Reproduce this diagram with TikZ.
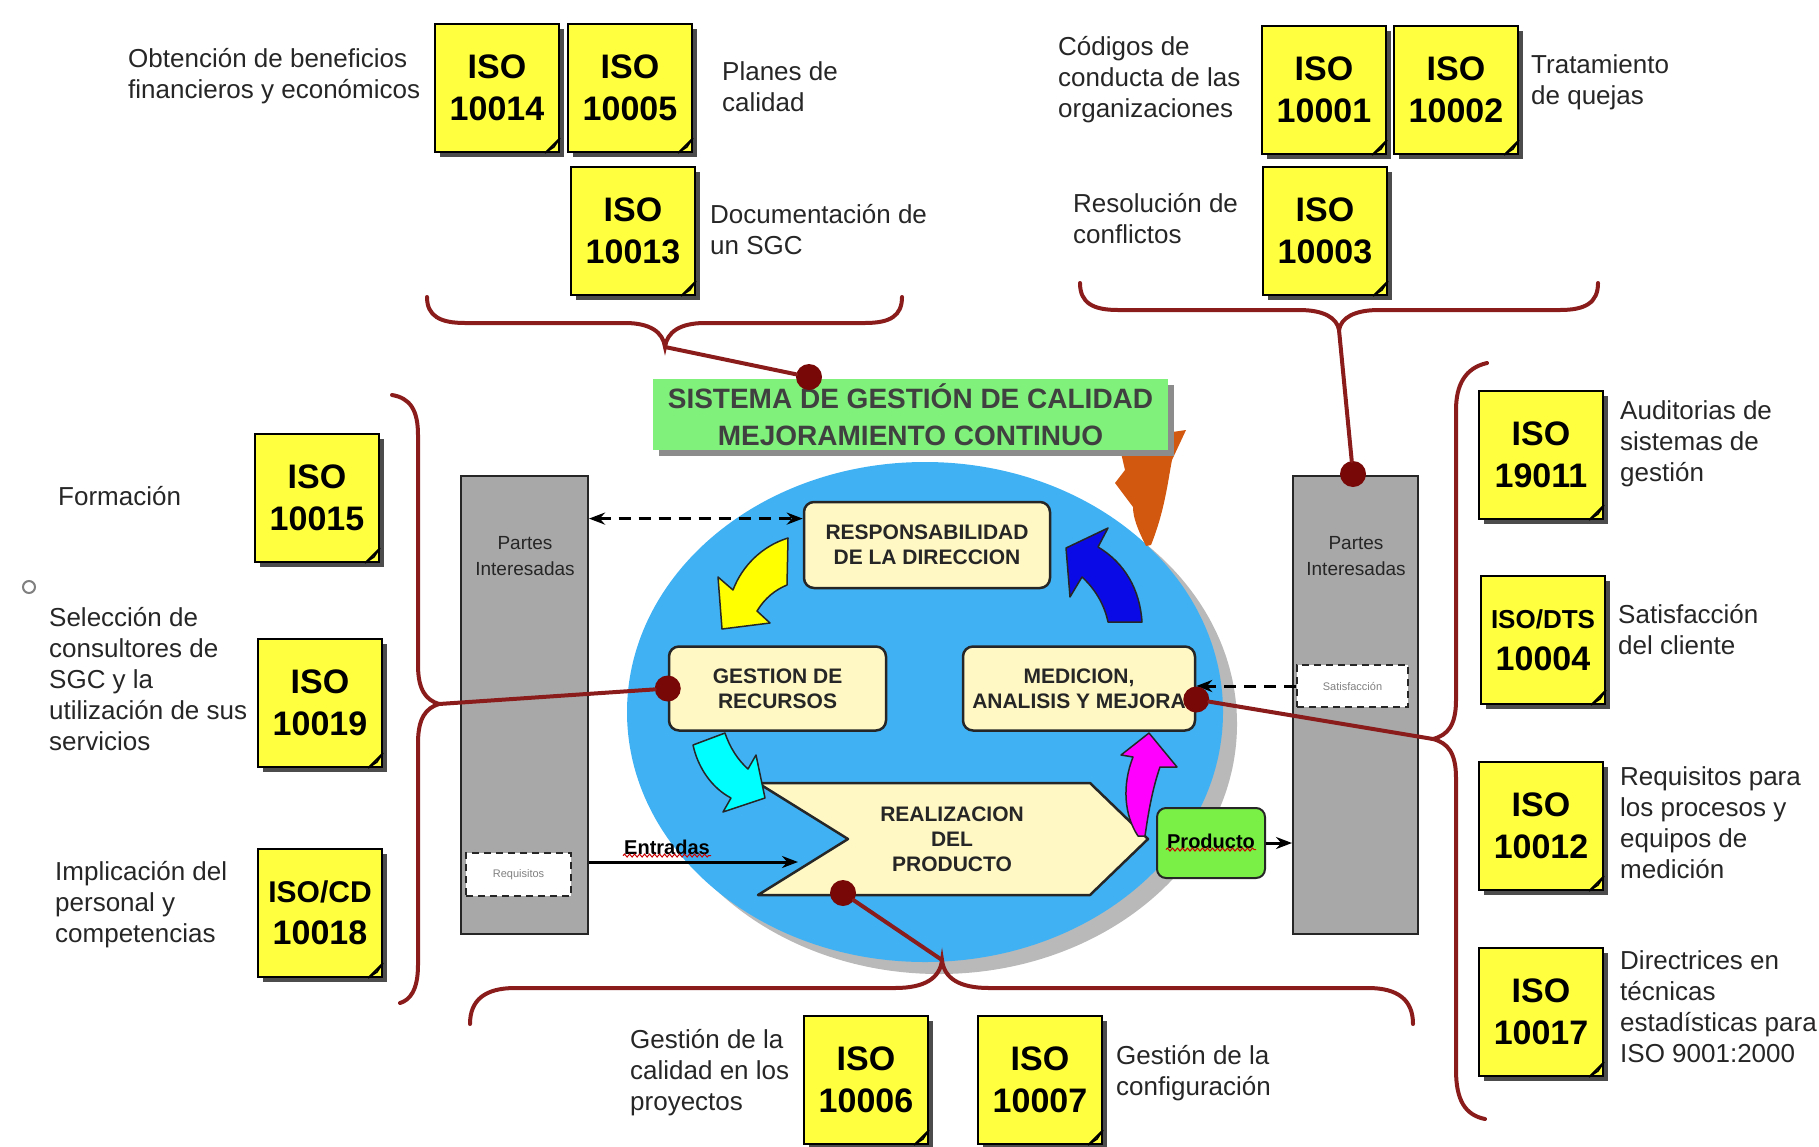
\documentclass[tikz,border=0pt]{standalone}
\usepackage{fontspec}
\setmainfont{Liberation Sans}
\usetikzlibrary{arrows.meta,shadows,decorations.pathmorphing}

\definecolor{noteyellow}{HTML}{FFFF40}
\definecolor{linkred}{HTML}{8B1C1C}
\definecolor{dotred}{HTML}{780808}
\definecolor{skyblue}{HTML}{40B2F4}
\definecolor{cream}{HTML}{FFF8C4}
\definecolor{titlegreen}{HTML}{80F27C}
\definecolor{prodgreen}{HTML}{7AF046}
\definecolor{arrowyellow}{RGB}{255,255,0}
\definecolor{arrowcyan}{RGB}{0,255,255}
\definecolor{arrowblue}{RGB}{10,10,230}
\definecolor{arrowmag}{RGB}{255,0,255}
\definecolor{rust}{HTML}{D2570F}
\definecolor{bargray}{HTML}{A8A8A8}

\tikzset{
  isonote/.style={fill=noteyellow, draw=black, line width=2pt, minimum width=124pt,
    minimum height=128pt, inner sep=0pt, align=center,
    font=\fontsize{34}{42}\selectfont\bfseries,
    general shadow={fill=black!70, shadow xshift=5pt, shadow yshift=-5pt}},
  lbl/.style={anchor=west, align=left, inner sep=0pt, text=black!85,
    font=\fontsize{26}{31}\selectfont},
  procbox/.style={rounded corners=10pt, fill=cream, draw=black!85, line width=2.5pt,
    align=center, text=black!85, font=\fontsize{21}{25}\selectfont\bfseries},
  procshape/.style={fill=cream, draw=black!85, line width=2.5pt, line join=round},
  proctext/.style={align=center, text=black!85, font=\fontsize{21}{25}\selectfont\bfseries},
  bar/.style={fill=bargray, draw=black!85, line width=2pt, inner sep=0pt},
  bartext/.style={align=center, text=black!85, font=\fontsize{19}{26}\selectfont},
  dashbox/.style={fill=white, draw=black!85, dash pattern=on 7pt off 5pt, line width=2pt,
    inner sep=0pt, text=black!50, font=\fontsize{11}{12}\selectfont},
  cyc/.style={draw=black!85, line width=1.5pt, line join=round},
  flow/.style={line width=3pt, -{Stealth[length=16pt,width=12pt]}},
  dashflow/.style={line width=3pt, dash pattern=on 12pt off 8pt},
  link/.style={draw=linkred, line width=4pt, line cap=round},
  dot/.style={circle, fill=dotred, minimum size=26pt, inner sep=0pt},
  squiggle/.style={red!80!black, line width=1pt, decorate,
    decoration={snake, amplitude=1.5pt, segment length=5pt}},
  smalltxt/.style={inner sep=1pt, text=black, font=\fontsize{20}{22}\selectfont\bfseries}
}

\begin{document}
\begin{tikzpicture}[x=1pt,y=-1pt]
\useasboundingbox (0,0) rectangle (1819,1146);

% circle behind the cycle
\fill[gray!55] (939,724) ellipse [x radius=298, y radius=250];
\fill[skyblue] (925,712) ellipse [x radius=298, y radius=250];

% improvement arrow, its head under the title
\fill[rust] (1146,546) .. controls (1138,530) and (1133,518) .. (1133,507)
  -- (1115,483) -- (1125,470) -- (1118,440) -- (1186,430) -- (1172,460)
  .. controls (1168,480) and (1165,510) .. (1151,545) -- cycle;

% title box
\node[fill=titlegreen, minimum width=515pt, minimum height=71pt, align=center,
  text=black!75, font=\fontsize{28}{37}\selectfont\bfseries,
  general shadow={fill=black!45, shadow xshift=6pt, shadow yshift=-6pt}]
  (sgc) at (910.5,414.5) {SISTEMA DE GESTIÓN DE CALIDAD\\MEJORAMIENTO CONTINUO};

% interested parties
\node[bar, minimum width=127pt, minimum height=458pt] (lbar) at (524.5,705) {};
\node[bar, minimum width=125pt, minimum height=458pt] (rbar) at (1355.5,705) {};
\node[bartext] (lbartxt) at (525,556) {Partes\\Interesadas};
\node[bartext] (rbartxt) at (1356,556) {Partes\\Interesadas};
\node[dashbox, minimum width=105pt, minimum height=43pt] (req) at (518.5,874.5) {Requisitos};
\node[dashbox, minimum width=111pt, minimum height=42pt] (sat) at (1352.5,686) {Satisfacción};

% process boxes
\node[procbox, minimum width=246pt, minimum height=86pt] (resp) at (927,545) {RESPONSABILIDAD\\DE LA DIRECCION};
\node[procbox, minimum width=217pt, minimum height=84pt] (gest) at (777.5,688.5) {GESTION DE\\RECURSOS};
\node[procbox, minimum width=232pt, minimum height=84pt] (med) at (1079,688.5) {MEDICION,\\ANALISIS Y MEJORA};
\draw[procshape] (758,783) -- (1090,783) -- (1148,839) -- (1090,895) -- (758,895) -- (848,839) -- cycle;
\node[proctext] (real) at (952,839) {REALIZACION\\DEL\\PRODUCTO};
\node[rounded corners=9pt, fill=prodgreen, draw=black!85, line width=2pt,
  minimum width=108pt, minimum height=70pt, inner sep=0pt] (prod) at (1211,843) {};
\node[smalltxt] (prodtxt) at (1211,841) {Producto};
\draw[squiggle] (prodtxt.south west) -- (prodtxt.south east);

% cycle arrows
\filldraw[cyc, fill=arrowyellow] (788,538) .. controls (762,546) and (742,566) .. (733,590)
  -- (718,577) -- (722,629) -- (770,623) -- (757,611)
  .. controls (765,598) and (775,590) .. (787,585) -- cycle;
\filldraw[cyc, fill=arrowcyan] (693,745) .. controls (698,768) and (712,788) .. (731,798)
  -- (723,812) -- (765,798) -- (756,755) -- (748,769)
  .. controls (738,760) and (730,748) .. (725,733) -- cycle;
\filldraw[cyc, fill=arrowblue] (1108,622) -- (1142,622) .. controls (1140,590) and (1125,563) .. (1098,547)
  -- (1108,528) -- (1066,548) -- (1070,597) -- (1082,577)
  .. controls (1094,588) and (1104,603) .. (1108,622) -- cycle;
\filldraw[cyc, fill=arrowmag] (1138,836) .. controls (1124,815) and (1122,785) .. (1133,757)
  -- (1121,755) -- (1149,733) -- (1177,767) -- (1160,767)
  .. controls (1152,790) and (1148,815) .. (1145,836) -- cycle;

% flows
\coordinate (inpt) at (798,862);
\draw[flow] (lbar.east |- inpt) -- (inpt);
\node[smalltxt] (entr) at (667,847) {Entradas};
\draw[squiggle] (entr.south west) -- (entr.south east);
\draw[flow] (prod.east) -- (prod.east -| rbar.west);
\draw[dashflow, {Stealth[length=16pt,width=12pt]}-{Stealth[length=16pt,width=12pt]}]
  (lbar.east |- resp.168) -- (resp.168);
\draw[dashflow, -{Stealth[length=16pt,width=12pt]}] (sat.west) -- (sat.west -| med.east);

% ISO notes
\node[isonote] (n10014) at (497,88) {ISO\\10014};
\node[isonote] (n10005) at (630,88) {ISO\\10005};
\node[isonote] (n10013) at (633,231) {ISO\\10013};
\node[isonote] (n10001) at (1324,90) {ISO\\10001};
\node[isonote] (n10002) at (1456,90) {ISO\\10002};
\node[isonote] (n10003) at (1325,231) {ISO\\10003};
\node[isonote] (n10015) at (317,498) {ISO\\10015};
\node[isonote] (n10019) at (320,703) {ISO\\10019};
\node[isonote] (n10018) at (320,913) {{\fontsize{30}{34}\selectfont ISO/CD}\\10018};
\node[isonote] (n19011) at (1541,455) {ISO\\19011};
\node[isonote] (n10004) at (1543,640) {{\fontsize{26}{30}\selectfont ISO/DTS}\\10004};
\node[isonote] (n10012) at (1541,826) {ISO\\10012};
\node[isonote] (n10017) at (1541,1012) {ISO\\10017};
\node[isonote] (n10006) at (866,1080) {ISO\\10006};
\node[isonote] (n10007) at (1040,1080) {ISO\\10007};
\foreach \n in {n10014,n10005,n10013,n10001,n10002,n10003,n10015,n10019,n10018,
                n19011,n10004,n10012,n10017,n10006,n10007}
  \filldraw[fill=noteyellow!55!black, draw=black, line width=1.5pt]
    ([xshift=-15pt]\n.south east) -- ([yshift=15pt]\n.south east) -- ([shift={(-6pt,6pt)}]\n.south east) -- cycle;

% labels
\node[lbl] (lObt) at (128,76) {Obtención de beneficios\\financieros y económicos};
\node[lbl] (lPlan) at (722,87) {Planes de\\calidad};
\node[lbl] (lDoc) at (710,230) {Documentación de\\un SGC};
\node[lbl] (lCod) at (1058,80) {Códigos de\\conducta de las\\organizaciones};
\node[lbl] (lTrat) at (1531,82) {Tratamiento\\de quejas};
\node[lbl] (lRes) at (1073,219) {Resolución de\\conflictos};
\node[lbl] (lForm) at (58,496) {Formación};
\node[lbl] (lSel) at (49,679) {Selección de\\consultores de\\SGC y la\\utilización de sus\\servicios};
\node[lbl] (lImp) at (55,905) {Implicación del\\personal y\\competencias};
\node[lbl] (lAud) at (1620,444) {Auditorias de\\sistemas de\\gestión};
\node[lbl] (lSat) at (1618,630) {Satisfacción\\del cliente};
\node[lbl] (lReq) at (1620,823) {Requisitos para\\los procesos y\\equipos de\\medición};
\node[lbl] (lDir) at (1620,1007) {Directrices en\\técnicas\\estadísticas para\\ISO 9001:2000};
\node[lbl] (lGcal) at (630,1073) {Gestión de la\\calidad en los\\proyectos};
\node[lbl] (lGconf) at (1116,1073) {Gestión de la\\configuración};
\draw[gray, line width=2pt] (29,587) circle (6);

% braces
\draw[link] (427,297) .. controls (427,316) and (440,323) .. (465,323) -- (625,323)
  .. controls (650,323) and (663,332) .. (665,347) .. controls (667,332) and (680,323) .. (705,323)
  -- (865,323) .. controls (890,323) and (902,316) .. (902,297);
\draw[link] (1080,283) .. controls (1080,303) and (1093,310) .. (1118,310) -- (1299,310)
  .. controls (1324,310) and (1337,318) .. (1339,330) .. controls (1341,318) and (1354,310) .. (1379,310)
  -- (1560,310) .. controls (1585,310) and (1598,303) .. (1598,283);
\draw[link] (392,395) .. controls (410,398) and (418,410) .. (418,435) -- (418,665)
  .. controls (418,690) and (426,700) .. (439,704) .. controls (426,708) and (418,718) .. (418,743)
  -- (418,965) .. controls (418,990) and (410,1000) .. (400,1003);
\draw[link] (1487,363) .. controls (1465,368) and (1456,385) .. (1456,410) -- (1456,700)
  .. controls (1456,725) and (1448,735) .. (1433,739) .. controls (1448,743) and (1456,753) .. (1456,778)
  -- (1456,1070) .. controls (1456,1100) and (1465,1115) .. (1485,1119);
\draw[link] (470,1024) .. controls (470,1000) and (485,988) .. (515,988) -- (895,988)
  .. controls (925,988) and (940,978) .. (942,960) .. controls (944,978) and (959,988) .. (989,988)
  -- (1368,988) .. controls (1398,988) and (1413,1000) .. (1413,1024);
\coordinate (tlcusp) at (665,347);
\coordinate (trcusp) at (1339,330);
\coordinate (lcusp) at (439,704);
\coordinate (rcusp) at (1433,739);
\coordinate (bcusp) at (942,960);

% links and dots
\node[dot] (d1) at (809,377) {};
\node[dot] (d2) at (1353,474) {};
\node[dot] (d3) at (gest.west) {};
\node[dot] (d4) at ([yshift=-11pt]med.east) {};
\node[dot] (d5) at (843,893) {};
\draw[link] (tlcusp) -- (d1);
\draw[link] (trcusp) -- (d2);
\draw[link] (lcusp) -- (d3);
\draw[link] (rcusp) -- (d4);
\draw[link] (bcusp) -- (d5);
\end{tikzpicture}
\end{document}
